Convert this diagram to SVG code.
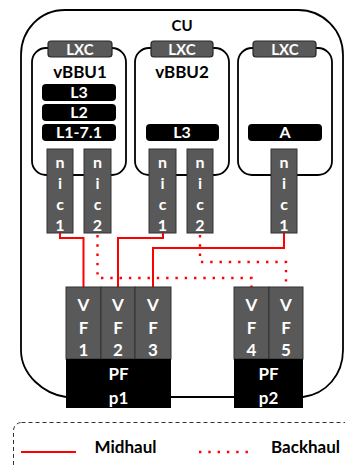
<svg xmlns="http://www.w3.org/2000/svg" width="345" height="465" viewBox="0 0 345 465">
<style>
text{font-family:Lato,"Open Sans","Liberation Sans",sans-serif;font-weight:bold;text-anchor:middle}
.w{fill:#fff}
.k{fill:#000}
.box{fill:#fff;stroke:#000;stroke-width:1.8}
.lxc{fill:#595959;stroke:#262626;stroke-width:1.2}
.bar{fill:#000}
.gray{fill:#595959;stroke:#333;stroke-width:1}
.mid{fill:none;stroke:#ff0000;stroke-width:2}
.back{fill:none;stroke:#ff0000;stroke-width:2.4;stroke-dasharray:2.4 6.9}
</style>
<rect width="345" height="465" fill="#fff"/>
<g id="cu">
<path d="M66,397 C44,394 21,375 21,350 V55 C21,30 40,10 65,10 H298 C323,10 343,30 343,55 V350 C343,375 326,394 303,397" class="box" fill="none"/>
<line x1="171" y1="397" x2="234" y2="397" stroke="#000" stroke-width="1.8"/>
<text x="182" y="31" class="k" font-size="15">CU</text>
</g>
<g id="lxc1">
<rect x="32" y="48" width="94" height="127" rx="14" class="box"/>
<rect x="48" y="41" width="64" height="16" rx="3" class="lxc"/>
<text x="80" y="54.5" class="w" font-size="15">LXC</text>
<text x="80" y="78" class="k" font-size="17">vBBU1</text>
<rect x="42" y="84" width="74" height="17" rx="4" class="bar"/>
<text x="79" y="98" class="w" font-size="16">L3</text>
<rect x="42" y="104" width="74" height="17" rx="4" class="bar"/>
<text x="79" y="118" class="w" font-size="16">L2</text>
<rect x="42" y="124" width="74" height="17" rx="4" class="bar"/>
<text x="79" y="138" class="w" font-size="16">L1-7.1</text>
</g>
<g id="lxc2">
<rect x="135" y="48" width="94" height="127" rx="14" class="box"/>
<rect x="151" y="41" width="62" height="16" rx="3" class="lxc"/>
<text x="182" y="54.5" class="w" font-size="15">LXC</text>
<text x="182" y="78" class="k" font-size="17">vBBU2</text>
<rect x="146" y="124" width="73" height="17" rx="4" class="bar"/>
<text x="182" y="138" class="w" font-size="16">L3</text>
</g>
<g id="lxc3">
<rect x="238" y="48" width="94" height="127" rx="14" class="box"/>
<rect x="253" y="41" width="63" height="16" rx="3" class="lxc"/>
<text x="285" y="54.5" class="w" font-size="15">LXC</text>
<rect x="248" y="124" width="74" height="17" rx="4" class="bar"/>
<text x="285" y="138" class="w" font-size="16">A</text>
</g>
<g id="nic1-1">
<rect x="47" y="149" width="26" height="84" class="gray"/>
<text x="60" y="168" class="w" font-size="16">n</text><text x="60" y="189" class="w" font-size="16">i</text><text x="60" y="210" class="w" font-size="16">c</text><text x="60" y="231" class="w" font-size="16">1</text>
</g>
<g id="nic1-2">
<rect x="84" y="149" width="27" height="84" class="gray"/>
<text x="97.5" y="168" class="w" font-size="16">n</text><text x="97.5" y="189" class="w" font-size="16">i</text><text x="97.5" y="210" class="w" font-size="16">c</text><text x="97.5" y="231" class="w" font-size="16">2</text>
</g>
<g id="nic2-1">
<rect x="149" y="149" width="27" height="84" class="gray"/>
<text x="162.5" y="168" class="w" font-size="16">n</text><text x="162.5" y="189" class="w" font-size="16">i</text><text x="162.5" y="210" class="w" font-size="16">c</text><text x="162.5" y="231" class="w" font-size="16">1</text>
</g>
<g id="nic2-2">
<rect x="187" y="149" width="26" height="84" class="gray"/>
<text x="200" y="168" class="w" font-size="16">n</text><text x="200" y="189" class="w" font-size="16">i</text><text x="200" y="210" class="w" font-size="16">c</text><text x="200" y="231" class="w" font-size="16">2</text>
</g>
<g id="nic3-1">
<rect x="271" y="149" width="26" height="84" class="gray"/>
<text x="284" y="168" class="w" font-size="16">n</text><text x="284" y="189" class="w" font-size="16">i</text><text x="284" y="210" class="w" font-size="16">c</text><text x="284" y="231" class="w" font-size="16">1</text>
</g>
<g id="connectors">
<polyline points="60,233 60,238 83.5,238 83.5,287" class="mid"/>
<polyline points="163,233 163,238 118,238 118,287" class="mid"/>
<polyline points="284,233 284,248 153,248 153,287" class="mid"/>
<polyline points="97.5,235 97.5,278 251.5,278 251.5,287" class="back"/>
<polyline points="200,235 200,262 286,262 286,287" class="back"/>
</g>
<g id="pf1">
<rect x="66" y="287" width="35" height="72" class="gray"/>
<rect x="101" y="287" width="34" height="72" class="gray"/>
<rect x="135" y="287" width="36" height="72" class="gray"/>
<text x="83.5" y="311" class="w" font-size="17">V</text><text x="83.5" y="334" class="w" font-size="17">F</text><text x="83.5" y="356" class="w" font-size="17">1</text>
<text x="118" y="311" class="w" font-size="17">V</text><text x="118" y="334" class="w" font-size="17">F</text><text x="118" y="356" class="w" font-size="17">2</text>
<text x="153" y="311" class="w" font-size="17">V</text><text x="153" y="334" class="w" font-size="17">F</text><text x="153" y="356" class="w" font-size="17">3</text>
<rect x="66" y="359" width="105" height="49" fill="#000"/>
<text x="118.5" y="380" class="w" font-size="17">PF</text>
<text x="118.5" y="404" class="w" font-size="17">p1</text>
</g>
<g id="pf2">
<rect x="234" y="287" width="35" height="72" class="gray"/>
<rect x="269" y="287" width="34" height="72" class="gray"/>
<text x="251.5" y="311" class="w" font-size="17">V</text><text x="251.5" y="334" class="w" font-size="17">F</text><text x="251.5" y="356" class="w" font-size="17">4</text>
<text x="286" y="311" class="w" font-size="17">V</text><text x="286" y="334" class="w" font-size="17">F</text><text x="286" y="356" class="w" font-size="17">5</text>
<rect x="234" y="359" width="69" height="49" fill="#000"/>
<text x="268.5" y="380" class="w" font-size="17">PF</text>
<text x="268.5" y="404" class="w" font-size="17">p2</text>
</g>
<g id="legend">
<rect x="13.5" y="422.5" width="345" height="60" rx="8" fill="none" stroke="#333" stroke-width="1" stroke-dasharray="4 3"/>
<line x1="21" y1="452" x2="76" y2="452" stroke="#ff0000" stroke-width="2"/>
<text x="125.5" y="453" class="k" font-size="17">Midhaul</text>
<line x1="199" y1="452" x2="248" y2="452" class="back"/>
<text x="305.5" y="453" class="k" font-size="17">Backhaul</text>
</g>
</svg>
